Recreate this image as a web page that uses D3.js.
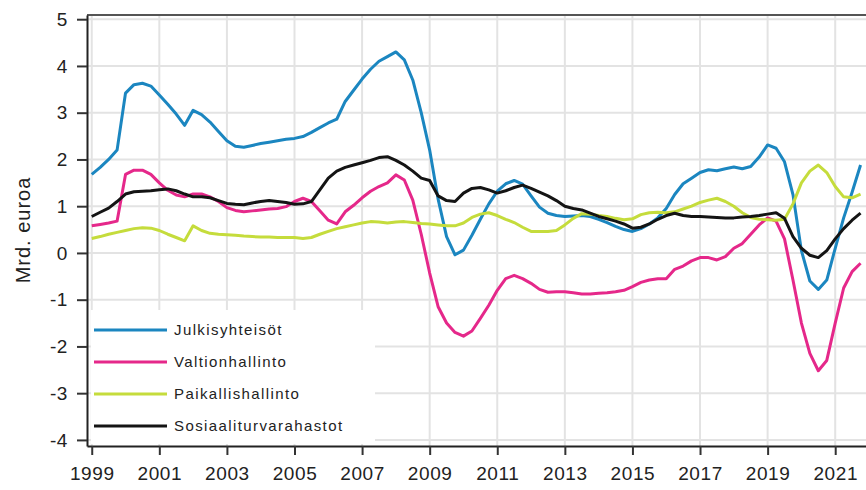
<!DOCTYPE html>
<html>
<head>
<meta charset="utf-8">
<script src="https://cdn.jsdelivr.net/npm/d3@7"></script>
<style>
  body { margin: 0; background: #fff; }
  svg { display: block; font-family: "Liberation Sans", Arial, sans-serif; }
</style>
</head>
<body>
<svg id="chart" width="866" height="490"></svg>
<script>
// quarterly data, 1999Q1 .. 2021Q4 (Mrd. euroa)
const startYear = 1999;

const julkisyhteisot = [
  1.68, 1.83, 2.0, 2.2,
  3.42, 3.6, 3.63, 3.57,
  3.38, 3.18, 2.97, 2.73,
  3.05, 2.96, 2.8, 2.6,
  2.4, 2.28, 2.26, 2.3,
  2.34, 2.37, 2.4, 2.43,
  2.45, 2.49, 2.58, 2.68,
  2.78, 2.86, 3.24, 3.48,
  3.72, 3.93, 4.1, 4.2,
  4.3, 4.13, 3.7, 3.0,
  2.2, 1.15, 0.35, -0.04,
  0.06, 0.38, 0.72, 1.05,
  1.32, 1.48, 1.55, 1.47,
  1.22, 0.98, 0.85, 0.8,
  0.78, 0.79, 0.8, 0.78,
  0.72, 0.65, 0.57, 0.5,
  0.46, 0.52, 0.62, 0.75,
  0.95, 1.25, 1.48, 1.6,
  1.72, 1.78, 1.76, 1.8,
  1.84, 1.8, 1.85, 2.05,
  2.31, 2.24, 1.95, 1.25,
  0.05, -0.6, -0.78, -0.58,
  0.1, 0.75, 1.3, 1.88
];

const valtionhallinto = [
  0.58, 0.61, 0.64, 0.68,
  1.68, 1.77, 1.77, 1.68,
  1.5, 1.34, 1.24, 1.2,
  1.26, 1.26, 1.2, 1.1,
  0.97, 0.91, 0.88, 0.9,
  0.92, 0.94, 0.95, 0.99,
  1.1, 1.17, 1.1, 0.9,
  0.7, 0.62, 0.88, 1.02,
  1.18, 1.32, 1.42, 1.5,
  1.67, 1.56, 1.13, 0.4,
  -0.43, -1.15, -1.5, -1.7,
  -1.78, -1.67, -1.4, -1.12,
  -0.8, -0.55, -0.48, -0.55,
  -0.65, -0.78, -0.84, -0.83,
  -0.83, -0.85, -0.88, -0.88,
  -0.86, -0.85, -0.83, -0.8,
  -0.72, -0.63, -0.58, -0.55,
  -0.55, -0.35, -0.28, -0.17,
  -0.1, -0.1, -0.15, -0.08,
  0.1, 0.2, 0.4, 0.6,
  0.75, 0.68, 0.3, -0.58,
  -1.5, -2.15, -2.52, -2.3,
  -1.5, -0.75, -0.4, -0.22
];

const paikallishallinto = [
  0.31, 0.35, 0.4, 0.44,
  0.48, 0.52, 0.54, 0.53,
  0.48, 0.4, 0.33, 0.26,
  0.58, 0.48, 0.42, 0.4,
  0.39, 0.38, 0.36, 0.35,
  0.34, 0.34, 0.33, 0.33,
  0.33, 0.31, 0.33, 0.4,
  0.46, 0.52, 0.56, 0.6,
  0.64, 0.67, 0.66, 0.64,
  0.66, 0.67, 0.65, 0.63,
  0.62, 0.6, 0.58, 0.58,
  0.64, 0.76, 0.83, 0.86,
  0.8, 0.72, 0.65, 0.55,
  0.46, 0.46, 0.46, 0.48,
  0.6, 0.74, 0.84, 0.83,
  0.8, 0.78, 0.74, 0.71,
  0.73, 0.82, 0.86, 0.87,
  0.86, 0.88, 0.94, 1.0,
  1.08, 1.13, 1.17, 1.1,
  1.0, 0.86, 0.76, 0.72,
  0.71, 0.7, 0.72, 1.05,
  1.5, 1.75, 1.88, 1.72,
  1.42, 1.2, 1.18, 1.26
];

const sosiaaliturvarahastot = [
  0.78, 0.87, 0.96, 1.1,
  1.26, 1.31, 1.32, 1.33,
  1.35, 1.37, 1.33, 1.26,
  1.2, 1.2, 1.18, 1.12,
  1.06, 1.04, 1.03, 1.07,
  1.1, 1.12, 1.1, 1.08,
  1.04, 1.05, 1.1, 1.35,
  1.6, 1.75, 1.83, 1.88,
  1.93, 1.98, 2.04, 2.06,
  1.98, 1.88, 1.75, 1.6,
  1.55, 1.22, 1.12, 1.1,
  1.28, 1.38, 1.4, 1.35,
  1.28, 1.33, 1.4, 1.45,
  1.38, 1.3, 1.22, 1.12,
  1.0, 0.95, 0.92, 0.85,
  0.78, 0.73, 0.68, 0.62,
  0.53, 0.55, 0.62, 0.72,
  0.8, 0.85, 0.8, 0.78,
  0.78, 0.77, 0.76, 0.75,
  0.75, 0.77, 0.78, 0.8,
  0.83, 0.86, 0.74, 0.35,
  0.1, -0.05, -0.1, 0.05,
  0.3, 0.52, 0.7, 0.85
];

const seriesNames = ["Julkisyhteisöt", "Valtionhallinto", "Paikallishallinto", "Sosiaaliturvarahastot"];
const seriesColors = ["#1b86c0", "#e5288a", "#c5dc3c", "#141414"];
const xTicks = [1999, 2001, 2003, 2005, 2007, 2009, 2011, 2013, 2015, 2017, 2019, 2021];
const yTicks = [-4, -3, -2, -1, 0, 1, 2, 3, 4, 5];

const allSeries = [julkisyhteisot, valtionhallinto, paikallishallinto, sosiaaliturvarahastot];

const svg = d3.select("#chart");

const plotLeft = 87, plotTop = 15, plotBottom = 446, plotRight = 869;

const x = d3.scaleLinear().domain([1998.86, 2022.0]).range([plotLeft, plotRight]);
const y = d3.scaleLinear().domain([-4.13, 5.09]).range([plotBottom, plotTop]);

// grid
svg.append("g")
  .selectAll("line")
  .data(xTicks)
  .join("line")
  .attr("x1", d => x(d)).attr("x2", d => x(d))
  .attr("y1", plotTop).attr("y2", plotBottom)
  .attr("stroke", "#e3e3e3").attr("stroke-width", 2);

svg.append("g")
  .selectAll("line")
  .data(yTicks)
  .join("line")
  .attr("x1", plotLeft).attr("x2", plotRight)
  .attr("y1", d => y(d)).attr("y2", d => y(d))
  .attr("stroke", "#e3e3e3").attr("stroke-width", 2);

// legend background (covers grid)
svg.append("rect")
  .attr("x", 91).attr("y", 310)
  .attr("width", 284).attr("height", 134)
  .attr("fill", "#fff");

// lines
const line = d3.line()
  .x((d, i) => x(startYear + i / 4))
  .y(d => y(d));

svg.append("g")
  .selectAll("path")
  .data(allSeries)
  .join("path")
  .attr("d", d => line(d))
  .attr("fill", "none")
  .attr("stroke", (d, i) => seriesColors[i])
  .attr("stroke-width", 3)
  .attr("stroke-linejoin", "round");

// frame top
svg.append("line")
  .attr("x1", plotLeft).attr("x2", plotRight)
  .attr("y1", plotTop).attr("y2", plotTop)
  .attr("stroke", "#555").attr("stroke-width", 2);

// axes
const yAxis = svg.append("g")
  .attr("transform", `translate(${plotLeft},0)`)
  .call(d3.axisLeft(y).tickValues(yTicks).tickFormat(d => String(d)).tickSize(10).tickSizeOuter(0).tickPadding(9));
const xAxis = svg.append("g")
  .attr("transform", `translate(0,${plotBottom})`)
  .call(d3.axisBottom(x).tickValues(xTicks).tickFormat(d => String(d)).tickSize(9).tickSizeOuter(0).tickPadding(12));

[yAxis, xAxis].forEach(a => {
  a.select(".domain").attr("stroke", "#222").attr("stroke-width", 2);
  a.selectAll(".tick line").attr("stroke", "#333").attr("stroke-width", 2);
  a.selectAll("text").attr("fill", "#222").style("font-size", "19px").style("letter-spacing", "0.6px");
});

// y label
svg.append("text")
  .attr("transform", "translate(30,230) rotate(-90)")
  .attr("text-anchor", "middle")
  .attr("fill", "#222")
  .style("font-size", "20px")
  .style("letter-spacing", "1px")
  .text("Mrd. euroa");

// legend
const legend = svg.append("g");
const rowY = d3.scalePoint().domain(seriesNames).range([330, 426]);
seriesNames.forEach((name, i) => {
  legend.append("line")
    .attr("x1", 94).attr("x2", 167)
    .attr("y1", rowY(name)).attr("y2", rowY(name))
    .attr("stroke", seriesColors[i]).attr("stroke-width", 3);
  legend.append("text")
    .attr("x", 174).attr("y", rowY(name))
    .attr("dy", "0.36em")
    .attr("fill", "#222")
    .style("font-size", "15px")
    .style("letter-spacing", "1.4px")
    .text(name);
});
</script>
</body>
</html>
